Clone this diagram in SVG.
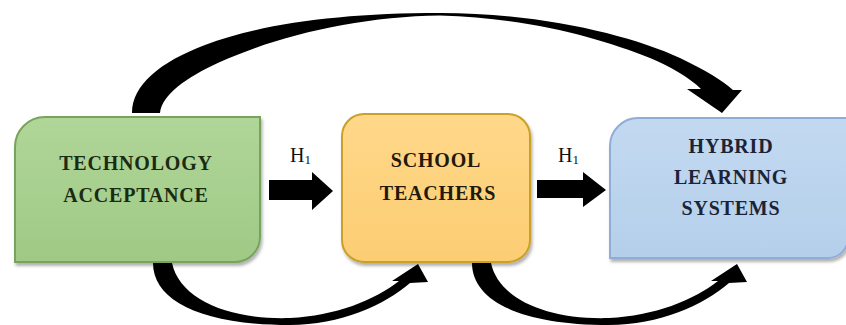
<svg xmlns="http://www.w3.org/2000/svg" width="846" height="325" viewBox="0 0 846 325">
  <defs>
    <linearGradient id="gGreen" x1="0" y1="0" x2="0" y2="1">
      <stop offset="0" stop-color="#b0d698"/>
      <stop offset="1" stop-color="#9fc985"/>
    </linearGradient>
    <linearGradient id="gGold" x1="0" y1="0" x2="0" y2="1">
      <stop offset="0" stop-color="#ffd88a"/>
      <stop offset="1" stop-color="#fccd72"/>
    </linearGradient>
    <linearGradient id="gBlue" x1="0" y1="0" x2="0" y2="1">
      <stop offset="0" stop-color="#c2d9f0"/>
      <stop offset="1" stop-color="#b5cfeb"/>
    </linearGradient>
    <filter id="shadow" x="-10%" y="-10%" width="130%" height="130%">
      <feDropShadow dx="1.5" dy="3" stdDeviation="1.8" flood-color="#000" flood-opacity="0.3"/>
    </filter>
  </defs>
  <style>
    .label { font-family: "Liberation Serif", "Times New Roman", serif; font-weight: bold; font-size: 20px; letter-spacing: 0.8px; text-anchor: middle; }
    .hyp { font-family: "Liberation Serif", "Times New Roman", serif; font-size: 20px; fill: #111; }
    .hyp .sub { font-size: 13px; }
    .conn { fill: #000; }
  </style>

  <rect width="846" height="325" fill="#fff"/>

  <!-- connectors -->
  <g id="connectors">
    <!-- long arc: Technology Acceptance -> Hybrid Learning Systems -->
    <path class="conn" d="M132,113 C132,85 160,62 205,45 C260,24 340,13 440,13 C540,13 630,35 680,58 C705,70 722,80 733,90 L742,90 L722,113 L687,89 L701,89 C690,78 670,66 650,58 C600,38 530,18 440,15.5 C360,16.5 280,35 220,62 C185,78 162,95 160,113 Z"/>
    <!-- lower arc: Technology Acceptance -> School Teachers -->
    <path id="lowArc" class="conn" d="M153,263 C153,300 200,325 290,325 C340,325 385,305 410,283 L428,282 L418,264 L392,281 L399,281 C375,300 335,316 290,318 C230,320 180,300 172,263 Z"/>
    <!-- lower arc: School Teachers -> Hybrid Learning Systems -->
    <use href="#lowArc" transform="translate(319,0)"/>
    <!-- block arrows -->
    <path class="conn" d="M269,180 L312,180 L312,172 L333,191 L312,210 L312,200 L269,200 Z"/>
    <path class="conn" d="M537,180 L583,180 L583,172 L606,190 L583,207 L583,198 L537,198 Z"/>
    <text class="hyp" x="290" y="162">H<tspan class="sub" dy="2">1</tspan></text>
    <text class="hyp" x="558" y="162">H<tspan class="sub" dy="2">1</tspan></text>
  </g>

  <!-- nodes -->
  <g id="technology-acceptance">
    <path d="M45,117 L260,117 L260,237 A25,25 0 0 1 235,262 L15,262 L15,147 A30,30 0 0 1 45,117 Z" fill="url(#gGreen)" stroke="#78a35e" stroke-width="2" filter="url(#shadow)"/>
    <text class="label" fill="#1a2b12" x="136" y="170">TECHNOLOGY</text>
    <text class="label" fill="#1a2b12" x="136" y="202">ACCEPTANCE</text>
  </g>

  <g id="school-teachers">
    <rect x="342" y="114" width="188" height="148" rx="22" fill="url(#gGold)" stroke="#c9a02a" stroke-width="2" filter="url(#shadow)"/>
    <text class="label" fill="#22190a" x="436" y="167">SCHOOL</text>
    <text class="label" fill="#22190a" x="438" y="200">TEACHERS</text>
  </g>

  <g id="hybrid-learning-systems">
    <path d="M638,118 L848,118 L848,238 A20,20 0 0 1 828,258 L610,258 L610,146 A28,28 0 0 1 638,118 Z" fill="url(#gBlue)" stroke="#8fadd6" stroke-width="2" filter="url(#shadow)"/>
    <text class="label" fill="#1b2336" x="731" y="153">HYBRID</text>
    <text class="label" fill="#1b2336" x="731" y="184">LEARNING</text>
    <text class="label" fill="#1b2336" x="731" y="215">SYSTEMS</text>
  </g>
</svg>
